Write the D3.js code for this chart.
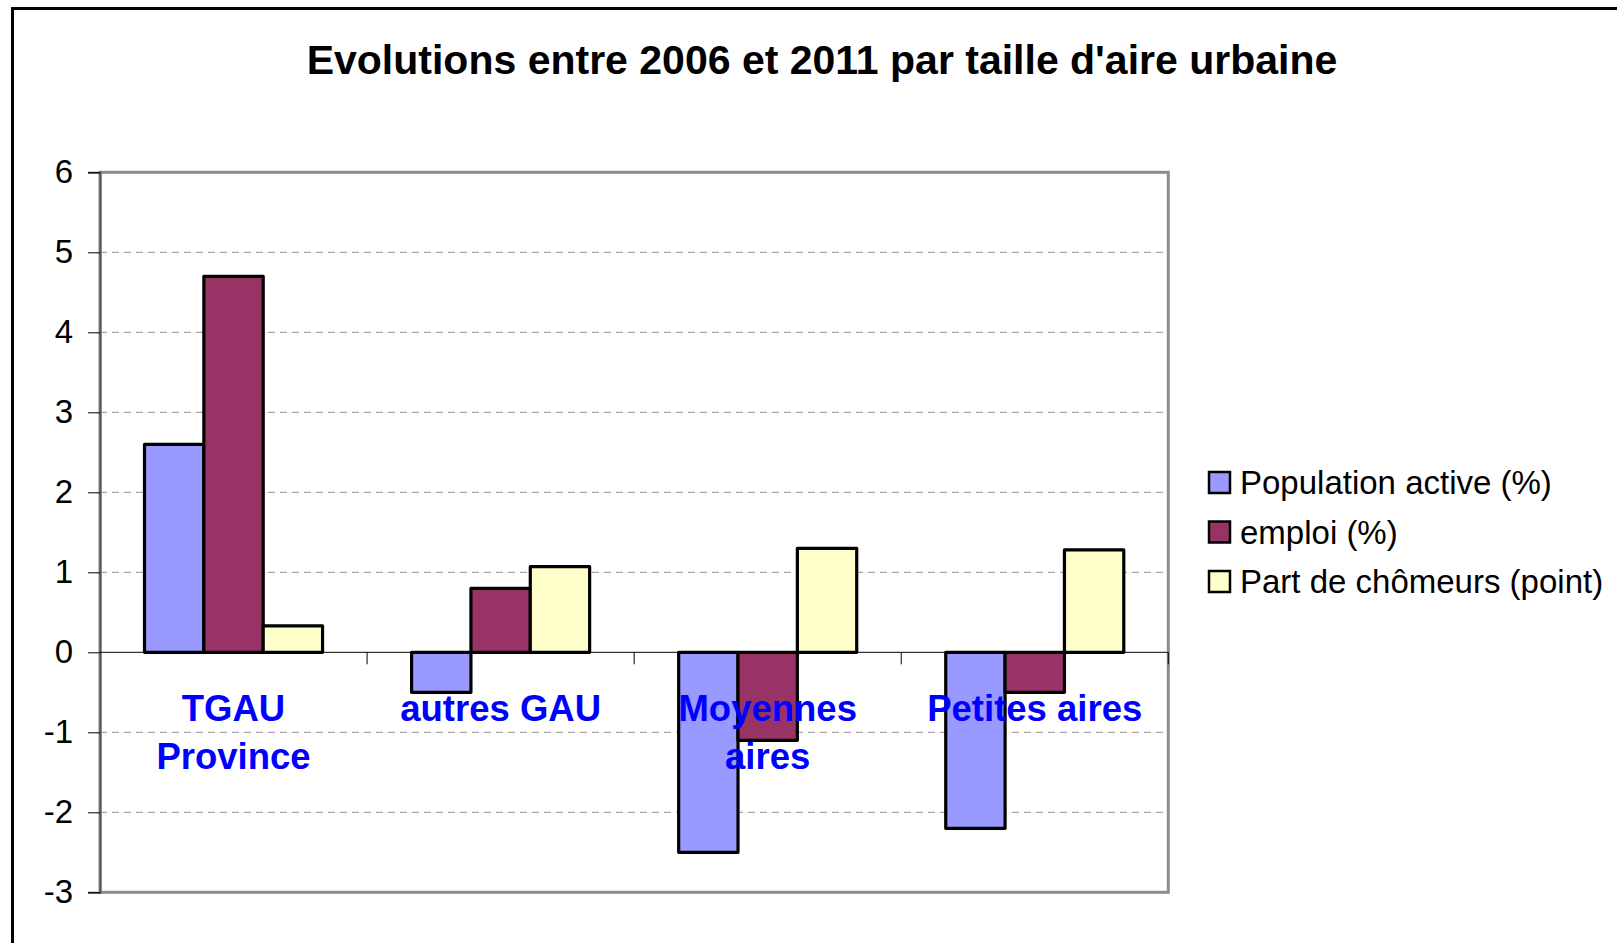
<!DOCTYPE html>
<html>
<head>
<meta charset="utf-8">
<script src="https://cdn.jsdelivr.net/npm/d3@7"></script>
<style>
  html, body { margin: 0; padding: 0; background: #fff; }
  svg { display: block; font-family: "Liberation Sans", Arial, sans-serif; }
</style>
</head>
<body>
<div id="chart"></div>
<script>
const categories = ['TGAU\nProvince', 'autres GAU', 'Moyennes\naires', 'Petites aires']
const seriesNames = ['Population active (%)', 'emploi (%)', 'Part de chômeurs (point)']
const populationActive = [2.6, -0.5, -2.5, -2.2]
const emploi = [4.7, 0.8, -1.1, -0.5]
const partChomeurs = [0.33, 1.07, 1.3, 1.28]
const yTicks = [-3, -2, -1, 0, 1, 2, 3, 4, 5, 6]
const colors = ['#9999ff', '#993366', '#ffffcc']

const width = 1617
const height = 943
const plot = { left: 100, top: 172.3, right: 1168.3, bottom: 892.3 }

const seriesValues = [populationActive, emploi, partChomeurs]
const rows = categories.map((cat, i) => ({
  cat,
  values: seriesValues.map((vals, s) => ({ s, value: vals[i] }))
}))

const svg = d3.select('#chart')
  .append('svg')
  .attr('width', width)
  .attr('height', height)

// outer frame (only top and left edges are visible)
svg.append('path')
  .attr('d', `M12.5,${height + 5}V8.5H${width + 5}`)
  .attr('fill', 'none')
  .attr('stroke', '#000')
  .attr('stroke-width', 3)

svg.append('text')
  .attr('x', 822)
  .attr('y', 74)
  .attr('text-anchor', 'middle')
  .attr('font-size', 41)
  .attr('font-weight', 'bold')
  .attr('fill', '#000')
  .text("Evolutions entre 2006 et 2011 par taille d'aire urbaine")

const x = d3.scaleBand()
  .domain(categories)
  .range([plot.left, plot.right])
  .padding(0)

const xSeries = d3.scaleBand()
  .domain(d3.range(seriesNames.length))
  .range([0, x.bandwidth()])
  .paddingInner(0)
  .paddingOuter(0.75)

const y = d3.scaleLinear()
  .domain([-3, 6])
  .range([plot.bottom, plot.top])

// dashed grid
svg.append('g')
  .selectAll('line')
  .data(yTicks.filter((t) => t !== 0 && t !== -3 && t !== 6))
  .join('line')
  .attr('x1', plot.left)
  .attr('x2', plot.right)
  .attr('y1', (d) => y(d))
  .attr('y2', (d) => y(d))
  .attr('stroke', '#a6a6a6')
  .attr('stroke-width', 1.2)
  .attr('stroke-dasharray', '7 5')

// plot frame
svg.append('rect')
  .attr('x', plot.left)
  .attr('y', plot.top)
  .attr('width', plot.right - plot.left)
  .attr('height', plot.bottom - plot.top)
  .attr('fill', 'none')
  .attr('stroke', '#8c8c8c')
  .attr('stroke-width', 3)

// y axis (plain hyphen for negatives, as in the original)
const yAxis = svg.append('g')
  .attr('transform', `translate(${plot.left},0)`)
  .call(d3.axisLeft(y).tickValues(yTicks).tickSize(12).tickPadding(15).tickFormat((d) => String(d)))
yAxis.select('.domain').attr('stroke', '#555').attr('stroke-width', 2)
yAxis.selectAll('.tick line').attr('stroke', '#000').attr('stroke-width', 1)
yAxis.selectAll('.tick text')
  .attr('font-family', '"Liberation Sans", Arial, sans-serif')
  .attr('font-size', 33)
  .attr('fill', '#000')

// bars
const groups = svg.append('g')
  .selectAll('g')
  .data(rows)
  .join('g')
  .attr('transform', (d) => `translate(${x(d.cat)},0)`)

groups.selectAll('rect')
  .data((d) => d.values)
  .join('rect')
  .attr('x', (d) => xSeries(d.s))
  .attr('width', xSeries.bandwidth())
  .attr('y', (d) => y(Math.max(0, d.value)))
  .attr('height', (d) => Math.abs(y(d.value) - y(0)))
  .attr('fill', (d) => colors[d.s])
  .attr('stroke', '#000')
  .attr('stroke-width', 3.2)
  .attr('stroke-linejoin', 'round')

// zero axis with category separators
svg.append('line')
  .attr('x1', plot.left)
  .attr('x2', plot.right)
  .attr('y1', y(0))
  .attr('y2', y(0))
  .attr('stroke', '#000')
  .attr('stroke-width', 1)

svg.append('g')
  .selectAll('line')
  .data(categories.slice(1).map((c) => x(c)).concat([plot.right]))
  .join('line')
  .attr('x1', (d) => d)
  .attr('x2', (d) => d)
  .attr('y1', y(0))
  .attr('y2', y(0) + 12)
  .attr('stroke', '#000')
  .attr('stroke-width', 1)

// category labels
svg.append('g')
  .selectAll('text')
  .data(categories)
  .join('text')
  .attr('x', (d) => x(d) + x.bandwidth() / 2)
  .attr('y', y(0) + 69)
  .attr('text-anchor', 'middle')
  .attr('font-size', 36.5)
  .attr('font-weight', 'bold')
  .attr('fill', '#0000ff')
  .each(function (d) {
    const t = d3.select(this)
    d.split('\n').forEach((line, i) => {
      t.append('tspan')
        .attr('x', x(d) + x.bandwidth() / 2)
        .attr('dy', i === 0 ? 0 : 48)
        .text(line)
    })
  })

// legend
const legend = svg.append('g')
  .attr('transform', 'translate(1209,472)')

const items = legend.selectAll('g')
  .data(seriesNames)
  .join('g')
  .attr('transform', (d, i) => `translate(0,${i * 49.5})`)

items.append('rect')
  .attr('x', 0)
  .attr('y', 0)
  .attr('width', 21)
  .attr('height', 21)
  .attr('fill', (d, i) => colors[i])
  .attr('stroke', '#000')
  .attr('stroke-width', 2.5)

items.append('text')
  .attr('x', 31)
  .attr('y', 22)
  .attr('font-size', 33)
  .attr('fill', '#000')
  .text((d) => d)
</script>
</body>
</html>
